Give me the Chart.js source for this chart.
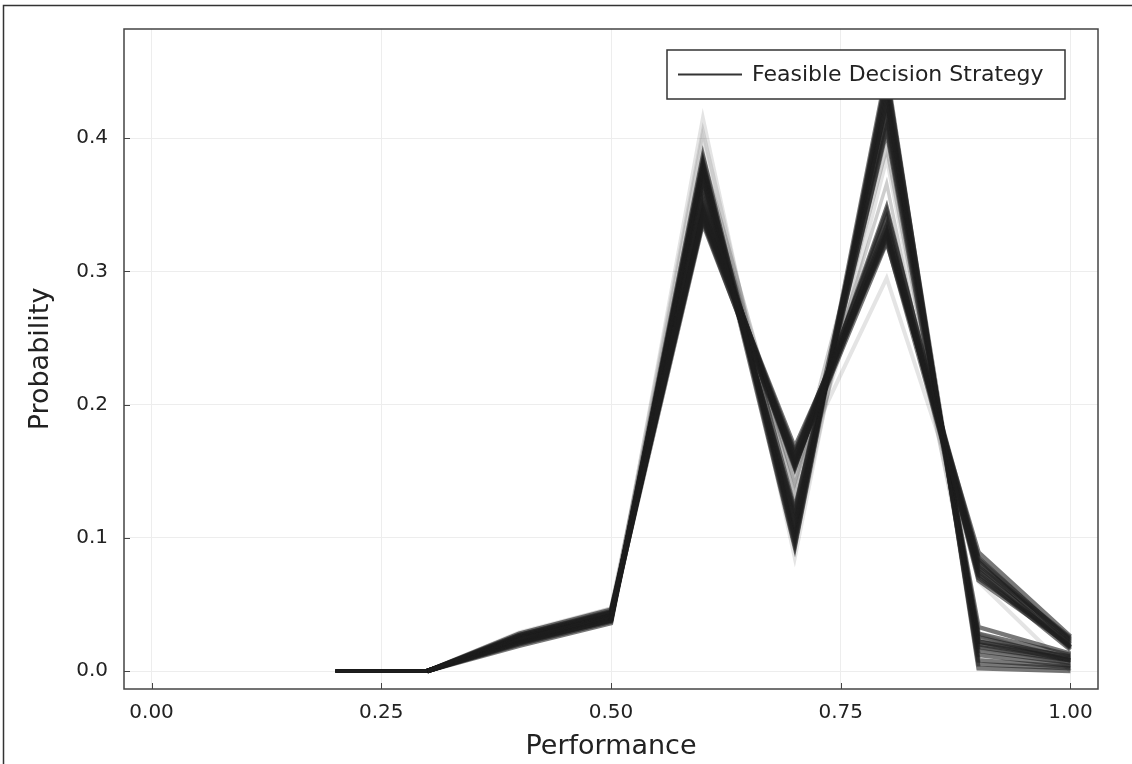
<!DOCTYPE html>
<html lang="en">
<head>
    <meta charset="UTF-8">
    <title>Feasible Decision Strategy</title>
    <script src="https://cdn.jsdelivr.net/npm/chart.js"></script>
    <style>
        html, body { margin: 0; padding: 0; background: #fff; }
        #wrap { width: 1132px; height: 764px; position: relative; }
    </style>
</head>
<body>
<div id="wrap">
    <canvas id="myChart" width="1132" height="764"></canvas>
</div>
<script>
    // x positions of the probability mass
    var performance = [0.2, 0.3, 0.4, 0.5, 0.6, 0.7, 0.8, 0.9, 1.0];

    // strategies with a low peak at 0.8 and a heavy tail at 0.9 / 1.0
    var lowPeakStrategies = [
        [0, 0, 0.027, 0.045, 0.342, 0.168, 0.323, 0.075, 0.020],
        [0, 0, 0.025, 0.043, 0.350, 0.160, 0.330, 0.072, 0.016],
        [0, 0, 0.028, 0.046, 0.338, 0.155, 0.335, 0.078, 0.024],
        [0, 0, 0.024, 0.040, 0.345, 0.152, 0.348, 0.070, 0.021],
        [0, 0, 0.026, 0.044, 0.340, 0.163, 0.327, 0.082, 0.018],
        [0, 0, 0.022, 0.038, 0.355, 0.153, 0.345, 0.077, 0.017],
        [0, 0, 0.023, 0.040, 0.348, 0.156, 0.322, 0.089, 0.026],
        [0, 0, 0.025, 0.042, 0.336, 0.158, 0.334, 0.085, 0.022],
        [0, 0, 0.026, 0.043, 0.344, 0.165, 0.331, 0.073, 0.018],
        [0, 0, 0.024, 0.041, 0.352, 0.157, 0.326, 0.080, 0.025],
        [0, 0, 0.027, 0.044, 0.339, 0.161, 0.340, 0.068, 0.019],
        [0, 0, 0.025, 0.042, 0.347, 0.154, 0.329, 0.084, 0.023]
    ];

    // strategies with a high peak at 0.8 and almost nothing above
    var highPeakStrategies = [
        [0, 0, 0.022, 0.038, 0.380, 0.095, 0.446, 0.005, 0.002],
        [0, 0, 0.020, 0.037, 0.387, 0.100, 0.440, 0.012, 0.004],
        [0, 0, 0.024, 0.040, 0.372, 0.105, 0.430, 0.020, 0.009],
        [0, 0, 0.021, 0.039, 0.375, 0.110, 0.420, 0.025, 0.010],
        [0, 0, 0.023, 0.041, 0.368, 0.115, 0.408, 0.033, 0.013],
        [0, 0, 0.025, 0.042, 0.362, 0.120, 0.425, 0.018, 0.008],
        [0, 0, 0.019, 0.036, 0.383, 0.098, 0.450, 0.002, 0.000],
        [0, 0, 0.022, 0.040, 0.378, 0.122, 0.405, 0.022, 0.008],
        [0, 0, 0.021, 0.038, 0.381, 0.102, 0.435, 0.008, 0.003],
        [0, 0, 0.023, 0.040, 0.370, 0.108, 0.428, 0.022, 0.011],
        [0, 0, 0.022, 0.039, 0.376, 0.093, 0.445, 0.015, 0.006],
        [0, 0, 0.024, 0.041, 0.365, 0.118, 0.415, 0.028, 0.012]
    ];

    // in between, thinner spread
    var midStrategies = [
        [0, 0, 0.027, 0.045, 0.387, 0.140, 0.366, 0.028, 0.007],
        [0, 0, 0.026, 0.044, 0.376, 0.133, 0.392, 0.026, 0.008],
        [0, 0, 0.025, 0.043, 0.358, 0.142, 0.408, 0.018, 0.006]
    ];

    // the few faint outliers
    var faintStrategies = [
        [0, 0, 0.020, 0.037, 0.415, 0.095, 0.410, 0.017, 0.006],
        [0, 0, 0.029, 0.047, 0.370, 0.150, 0.295, 0.085, 0.024],
        [0, 0, 0.021, 0.038, 0.400, 0.085, 0.430, 0.020, 0.006],
        [0, 0, 0.024, 0.041, 0.405, 0.110, 0.385, 0.027, 0.008],
        [0, 0, 0.028, 0.047, 0.380, 0.130, 0.348, 0.067, 0.000]
    ];

    var xTicks = [0, 0.25, 0.5, 0.75, 1.0];
    var yTicks = [0, 0.1, 0.2, 0.3, 0.4];
    var legendText = 'Feasible Decision Strategy';

    var FONT = "'DejaVu Sans', sans-serif";

    function toPoints(vals) {
        return vals.map(function(v, i) { return {x: performance[i], y: v}; });
    }

    var datasets = [];
    function addGroup(group, color, width) {
        group.forEach(function(vals) {
            datasets.push({
                label: legendText,
                data: toPoints(vals),
                borderColor: color,
                borderWidth: width,
                pointRadius: 0,
                tension: 0,
                fill: false,
                segment: {
                    // all strategies share the zero stretch, keep it thin
                    borderWidth: function(c) {
                        return (c.p0.parsed.y === 0 && c.p1.parsed.y === 0) ? 2.5 : undefined;
                    }
                }
            });
        });
    }
    addGroup(faintStrategies, 'rgba(30,30,30,0.12)', 4);
    addGroup(midStrategies, 'rgba(30,30,30,0.22)', 3.5);
    addGroup(lowPeakStrategies, 'rgba(30,30,30,0.6)', 4.5);
    addGroup(highPeakStrategies, 'rgba(30,30,30,0.6)', 4.5);

    // frame, inside ticks, legend box and the outer border
    var decorations = {
        id: 'decorations',
        afterDatasetsDraw: function(chart) {
            var ctx = chart.ctx, a = chart.chartArea;
            var xs = chart.scales.x, ys = chart.scales.y;
            ctx.save();
            ctx.strokeStyle = '#444';
            ctx.lineWidth = 1.5;
            ctx.strokeRect(a.left, a.top, a.right - a.left, a.bottom - a.top);
            ctx.lineWidth = 1;
            ctx.beginPath();
            xTicks.forEach(function(t) {
                var px = Math.round(xs.getPixelForValue(t)) + 0.5;
                ctx.moveTo(px, a.bottom);
                ctx.lineTo(px, a.bottom - 6);
            });
            yTicks.forEach(function(t) {
                var py = Math.round(ys.getPixelForValue(t)) + 0.5;
                ctx.moveTo(a.left, py);
                ctx.lineTo(a.left + 6, py);
            });
            ctx.stroke();

            // legend
            ctx.fillStyle = '#fff';
            ctx.fillRect(667, 50, 398, 49);
            ctx.strokeStyle = '#333';
            ctx.lineWidth = 1.5;
            ctx.strokeRect(667, 50, 398, 49);
            ctx.lineWidth = 2;
            ctx.beginPath();
            ctx.moveTo(678, 74.5);
            ctx.lineTo(742, 74.5);
            ctx.stroke();
            ctx.fillStyle = '#222';
            ctx.font = '22px ' + FONT;
            ctx.textBaseline = 'middle';
            ctx.fillText(legendText, 752, 75);

            // outer border of the picture
            ctx.strokeStyle = '#333';
            ctx.lineWidth = 1.5;
            ctx.beginPath();
            ctx.moveTo(3.5, 764);
            ctx.lineTo(3.5, 5.5);
            ctx.lineTo(1132, 5.5);
            ctx.stroke();
            ctx.restore();
        }
    };

    var ctx = document.getElementById('myChart').getContext('2d');
    var myChart = new Chart(ctx, {
        type: 'line',
        data: { datasets: datasets },
        options: {
            responsive: false,
            animation: false,
            layout: { padding: { top: 29, right: 34, left: 0, bottom: 0 } },
            plugins: { legend: { display: false }, tooltip: { enabled: false } },
            scales: {
                x: {
                    type: 'linear',
                    min: -0.03,
                    max: 1.03,
                    afterBuildTicks: function(scale) {
                        scale.ticks = xTicks.map(function(v) { return {value: v}; });
                    },
                    afterFit: function(scale) { scale.height = 75; },
                    ticks: {
                        callback: function(v) { return Number(v).toFixed(2); },
                        font: { family: FONT, size: 20 },
                        color: '#222',
                        padding: 12,
                        maxRotation: 0
                    },
                    grid: { color: '#ededed', lineWidth: 1, drawTicks: false },
                    border: { display: false },
                    title: {
                        display: true,
                        text: 'Performance',
                        font: { family: FONT, size: 27 },
                        color: '#222',
                        padding: { top: 0, bottom: 1 }
                    }
                },
                y: {
                    min: -0.0135,
                    max: 0.482,
                    afterBuildTicks: function(scale) {
                        scale.ticks = yTicks.map(function(v) { return {value: v}; });
                    },
                    afterFit: function(scale) { scale.width = 124; },
                    ticks: {
                        callback: function(v) { return Number(v).toFixed(1); },
                        font: { family: FONT, size: 20 },
                        color: '#222',
                        padding: 16
                    },
                    grid: { color: '#ededed', lineWidth: 1, drawTicks: false },
                    border: { display: false },
                    title: {
                        display: true,
                        text: 'Probability',
                        font: { family: FONT, size: 27 },
                        color: '#222',
                        padding: { top: 25, bottom: 0 }
                    }
                }
            }
        },
        plugins: [decorations]
    });
</script>
</body>
</html>
